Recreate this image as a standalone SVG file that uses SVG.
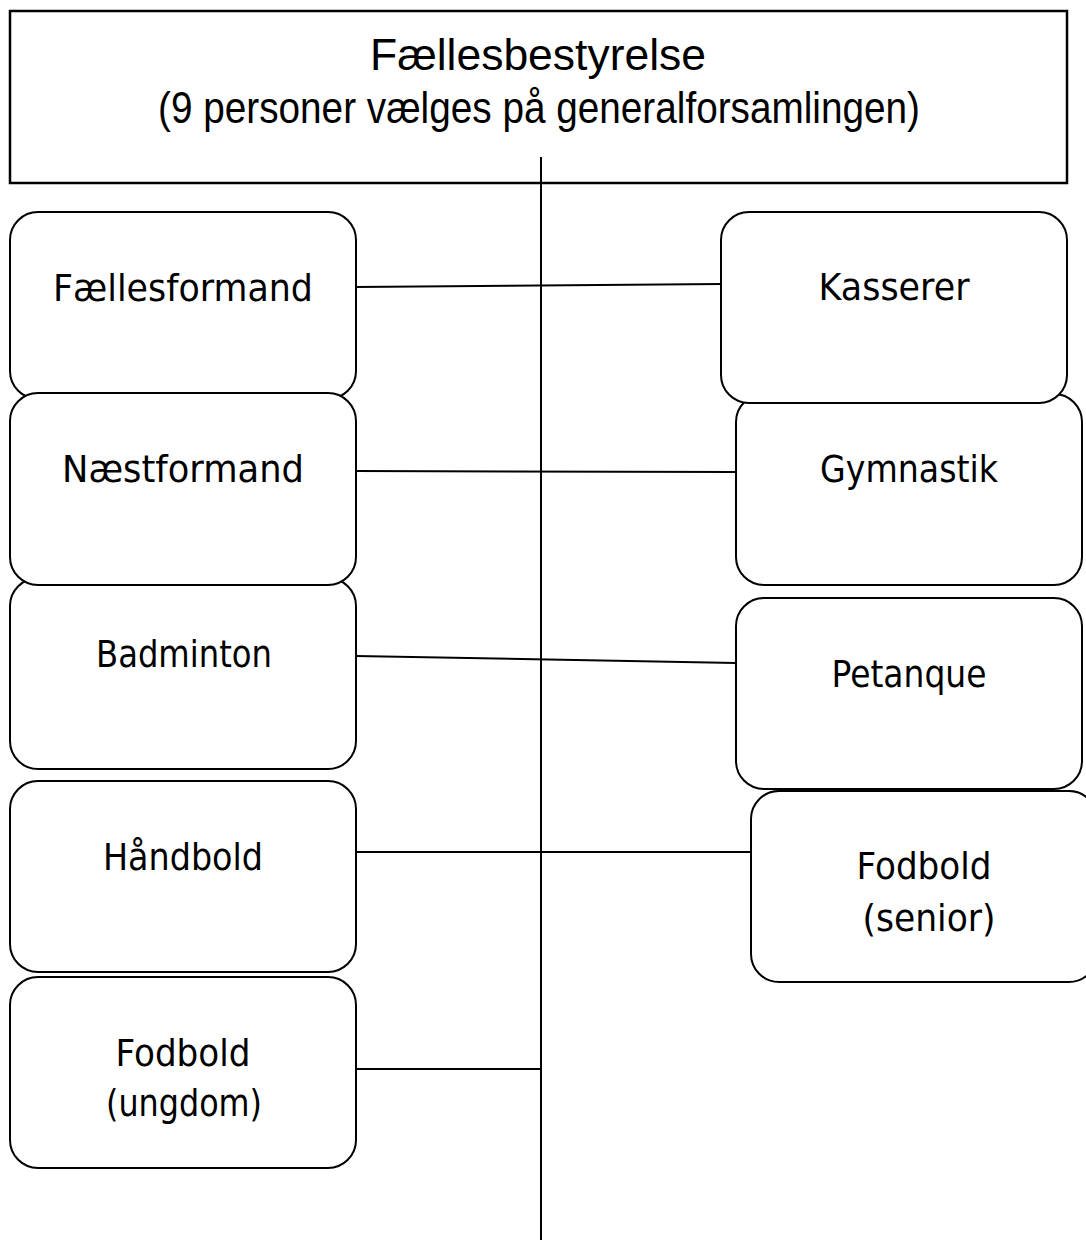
<svg xmlns="http://www.w3.org/2000/svg" width="1086" height="1242" viewBox="0 0 1086 1242">
<style>
.box{fill:#fff;stroke:#000;stroke-width:2}
.top{fill:#fff;stroke:#000;stroke-width:2.5}
.lbl{font-family:"DejaVu Sans","Noto Sans",sans-serif;font-size:38px;fill:#000;text-anchor:middle}
.ttl{font-family:"Liberation Sans","Noto Sans",sans-serif;font-size:45px;fill:#000;text-anchor:middle}
.con line{stroke:#000;stroke-width:2;fill:none}
</style>
<rect width="1086" height="1242" fill="#fff"/>
<g id="board">
<rect class="top" x="10" y="11" width="1057" height="172"/>
<text class="ttl" x="538" y="70" textLength="336" lengthAdjust="spacingAndGlyphs">Fællesbestyrelse</text>
<text class="ttl" x="539" y="123" textLength="762" lengthAdjust="spacingAndGlyphs">(9 personer vælges på generalforsamlingen)</text>
</g>
<g id="connectors" class="con">
<line x1="541" y1="157" x2="541" y2="1240"/>
<line x1="356" y1="287" x2="721" y2="284"/>
<line x1="356" y1="471" x2="736" y2="472"/>
<line x1="356" y1="656" x2="736" y2="663"/>
<line x1="356" y1="852" x2="751" y2="852"/>
<line x1="356" y1="1069" x2="541" y2="1069"/>
</g>
<g id="faellesformand">
<rect class="box" x="10" y="212" width="346" height="187" rx="28"/>
<text class="lbl" x="183" y="301" textLength="260" lengthAdjust="spacingAndGlyphs">Fællesformand</text>
</g>
<g id="badminton">
<rect class="box" x="10" y="578" width="346" height="191" rx="28"/>
<text class="lbl" x="184" y="667" textLength="176" lengthAdjust="spacingAndGlyphs">Badminton</text>
</g>
<g id="naestformand">
<rect class="box" x="10" y="393" width="346" height="192" rx="28"/>
<text class="lbl" x="183" y="482" textLength="242" lengthAdjust="spacingAndGlyphs">Næstformand</text>
</g>
<g id="haandbold">
<rect class="box" x="10" y="781" width="346" height="191" rx="28"/>
<text class="lbl" x="183" y="870" textLength="160" lengthAdjust="spacingAndGlyphs">Håndbold</text>
</g>
<g id="fodbold-ungdom">
<rect class="box" x="10" y="977" width="346" height="191" rx="28"/>
<text class="lbl" x="183" y="1066" textLength="135" lengthAdjust="spacingAndGlyphs">Fodbold</text>
<text class="lbl" x="184" y="1116" textLength="156" lengthAdjust="spacingAndGlyphs">(ungdom)</text>
</g>
<g id="gymnastik">
<rect class="box" x="736" y="394" width="346" height="191" rx="28"/>
<text class="lbl" x="909" y="482" textLength="178" lengthAdjust="spacingAndGlyphs">Gymnastik</text>
</g>
<g id="kasserer">
<rect class="box" x="721" y="212" width="346" height="191" rx="28"/>
<text class="lbl" x="894" y="300" textLength="151" lengthAdjust="spacingAndGlyphs">Kasserer</text>
</g>
<g id="petanque">
<rect class="box" x="736" y="598" width="346" height="191" rx="28"/>
<text class="lbl" x="909" y="687" textLength="155" lengthAdjust="spacingAndGlyphs">Petanque</text>
</g>
<g id="fodbold-senior">
<rect class="box" x="751" y="791" width="346" height="191" rx="28"/>
<text class="lbl" x="924" y="879" textLength="135" lengthAdjust="spacingAndGlyphs">Fodbold</text>
<text class="lbl" x="929" y="931" textLength="133" lengthAdjust="spacingAndGlyphs">(senior)</text>
</g>
</svg>
